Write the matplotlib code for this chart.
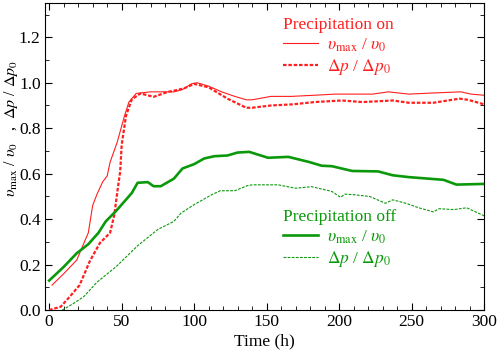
import matplotlib
matplotlib.use('Agg')
import matplotlib.pyplot as plt
from matplotlib.lines import Line2D
from matplotlib.ticker import MultipleLocator, FormatStrFormatter

plt.rcParams['font.family'] = 'Liberation Serif'
plt.rcParams['mathtext.fontset'] = 'stix'
plt.rcParams['font.size'] = 12.5

## Data (time in h, normalised values)
t_v_on = [2, 10, 19, 23, 27, 30, 33, 37, 40, 42, 47, 52, 55, 60, 70, 86, 92, 98, 102,
          110, 119, 128, 136, 140, 153, 167, 183, 197, 210, 223, 234, 248, 265, 284, 291, 300]
v_on = [0.11, 0.16, 0.22, 0.28, 0.34, 0.46, 0.51, 0.565, 0.59, 0.65, 0.74, 0.855, 0.915,
        0.953, 0.96, 0.96, 0.97, 0.995, 1.0, 0.985, 0.96, 0.94, 0.925, 0.925, 0.94, 0.94,
        0.945, 0.95, 0.95, 0.95, 0.96, 0.95, 0.955, 0.96, 0.95, 0.945]

t_p_on = [0, 8, 15, 21, 28, 35, 42, 45, 47, 49, 50, 53, 57, 63, 72, 82, 86, 93, 100,
          110, 123, 136, 140, 153, 168, 183, 202, 216, 237, 248, 265, 283, 289, 300]
p_on = [0.0, 0.015, 0.065, 0.11, 0.215, 0.295, 0.34, 0.42, 0.52, 0.61, 0.725, 0.855,
        0.927, 0.953, 0.938, 0.96, 0.965, 0.975, 0.995, 0.98, 0.93, 0.89, 0.89, 0.9, 0.905,
        0.915, 0.922, 0.915, 0.922, 0.912, 0.912, 0.93, 0.925, 0.905]

t_v_off = [0, 10, 19, 27, 34, 39, 46, 57, 61, 68, 72, 77, 86, 92, 100, 107, 114, 123,
           130, 138, 151, 165, 179, 188, 195, 209, 227, 237, 248, 272, 281, 300]
v_off = [0.13, 0.19, 0.25, 0.29, 0.34, 0.39, 0.435, 0.515, 0.56, 0.563, 0.545, 0.545,
         0.578, 0.623, 0.642, 0.667, 0.677, 0.68, 0.693, 0.696, 0.67, 0.674, 0.652,
         0.635, 0.633, 0.612, 0.61, 0.593, 0.585, 0.573, 0.552, 0.555]

t_p_off = [9, 17, 24, 33, 46, 61, 75, 86, 91, 100, 112, 118, 128, 137, 140, 158, 170,
           181, 195, 201, 204, 211, 221, 232, 237, 246, 255, 265, 269, 279, 288, 300]
p_off = [0.0, 0.03, 0.06, 0.123, 0.19, 0.283, 0.355, 0.39, 0.427, 0.464, 0.507, 0.525,
         0.525, 0.548, 0.551, 0.551, 0.536, 0.543, 0.522, 0.496, 0.51, 0.507, 0.5, 0.47,
         0.485, 0.47, 0.45, 0.432, 0.446, 0.442, 0.45, 0.415]

red = '#ff1f1f'
green = '#0b990b'

fig = plt.figure(figsize=(4.98, 3.52), dpi=100)
ax = fig.add_axes([0.090, 0.119, 0.882, 0.872])

ax.plot(t_v_on, v_on, color=red, lw=0.8)
ax.plot(t_p_on, p_on, color=red, lw=1.6, dashes=(1.6, 0.8))
ax.plot(t_v_off, v_off, color=green, lw=1.9)
ax.plot(t_p_off, p_off, color=green, lw=0.8, dashes=(2.5, 1.2))

ax.set_xlim(-3, 300)
ax.set_ylim(0, 1.35)
ax.xaxis.set_major_locator(MultipleLocator(50))
ax.xaxis.set_minor_locator(MultipleLocator(10))
ax.yaxis.set_major_locator(MultipleLocator(0.2))
ax.yaxis.set_minor_locator(MultipleLocator(0.1))
ax.yaxis.set_major_formatter(FormatStrFormatter('%.1f'))
ax.tick_params(which='both', direction='in', top=True, right=True, pad=3)
ax.tick_params(which='major', length=5, width=0.8)
ax.tick_params(which='minor', length=3, width=0.6)

ax.set_xlabel('Time (h)', labelpad=2)
ax.set_ylabel(r'$\upsilon_{\mathrm{max}}$ / $\upsilon_0$   ,  $\Delta p$ / $\Delta p_0$',
              fontsize=11.5)
ax.yaxis.set_label_coords(-0.057, 0.59)

h_on = [Line2D([], [], color=red, lw=0.8),
        Line2D([], [], color=red, lw=1.6, dashes=(1.6, 0.8))]
lab = [r'$\upsilon_{\mathrm{max}}$ / $\upsilon_0$', r'$\Delta p$ / $\Delta p_0$']
leg1 = ax.legend(h_on, lab, title='Precipitation on', frameon=False, loc='upper left',
                 bbox_to_anchor=(0.543, 0.955), alignment='left', labelcolor=red,
                 handlelength=2.0, handletextpad=0.5, labelspacing=0.2,
                 borderaxespad=0, borderpad=0)
leg1.get_title().set_color(red)
ax.add_artist(leg1)

h_off = [Line2D([], [], color=green, lw=1.9),
         Line2D([], [], color=green, lw=0.8, dashes=(2.5, 1.2))]
leg2 = ax.legend(h_off, lab, title='Precipitation off', frameon=False, loc='upper left',
                 bbox_to_anchor=(0.543, 0.33), alignment='left', labelcolor=green,
                 handlelength=2.0, handletextpad=0.5, labelspacing=0.2,
                 borderaxespad=0, borderpad=0)
leg2.get_title().set_color(green)

fig.savefig('out.png', dpi=100)
